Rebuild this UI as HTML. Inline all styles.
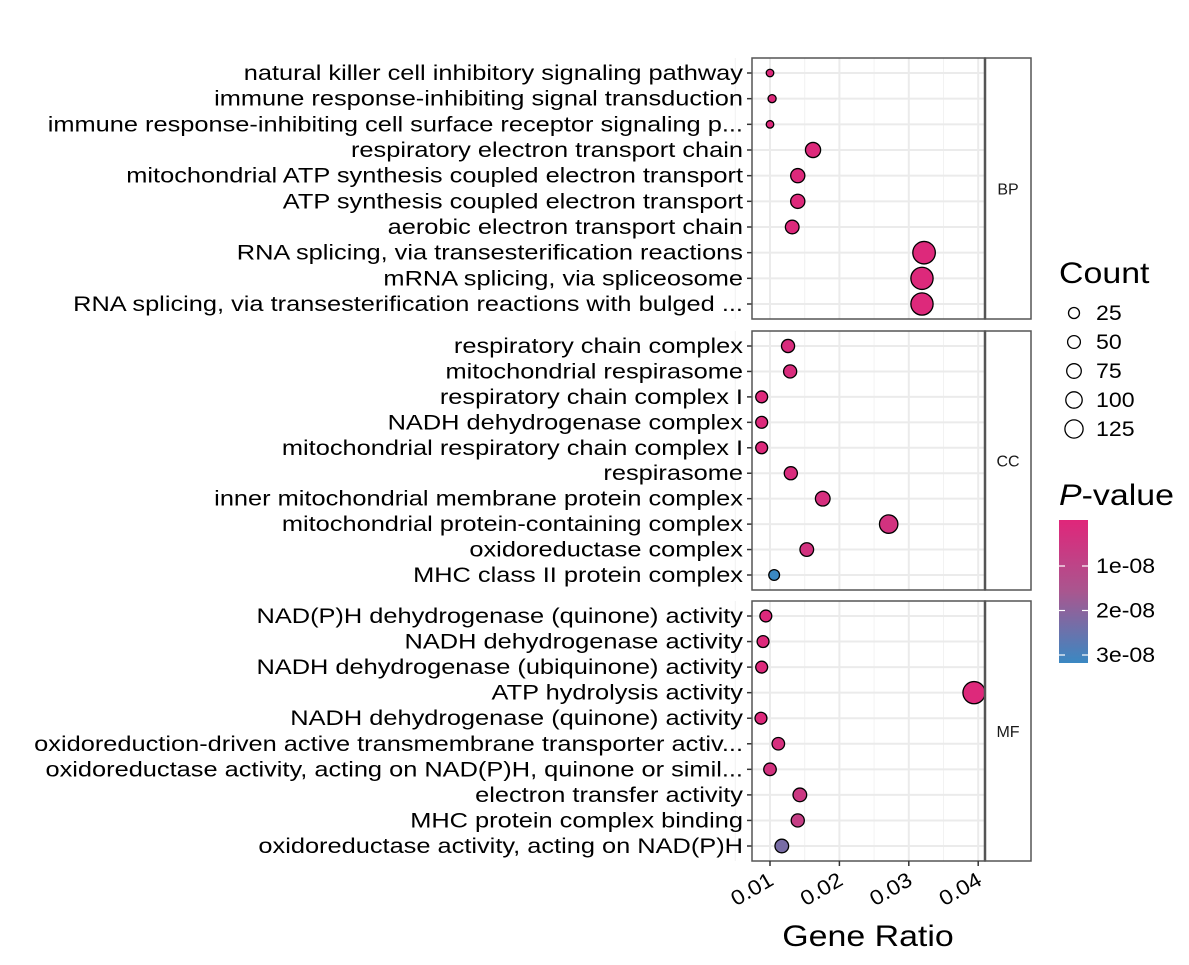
<!DOCTYPE html>
<html><head><meta charset="utf-8"><style>
body{margin:0;background:#fff;font-family:"Liberation Sans",Arial,sans-serif}
svg text{font-family:"Liberation Sans",Arial,sans-serif}
</style></head><body>
<svg id="c" width="1189" height="960" xmlns="http://www.w3.org/2000/svg">
<defs><linearGradient id="pg" x1="0" y1="0" x2="0" y2="1">
<stop offset="0" stop-color="#e0267a"/><stop offset="0.5" stop-color="#a9568f"/><stop offset="1" stop-color="#3a88c2"/></linearGradient></defs>
</svg>
<script>
const bpTerms=["natural killer cell inhibitory signaling pathway","immune response-inhibiting signal transduction","immune response-inhibiting cell surface receptor signaling p...","respiratory electron transport chain","mitochondrial ATP synthesis coupled electron transport","ATP synthesis coupled electron transport","aerobic electron transport chain","RNA splicing, via transesterification reactions","mRNA splicing, via spliceosome","RNA splicing, via transesterification reactions with bulged ..."];
const bpRatio=[0.0100,0.0103,0.0100,0.0162,0.0140,0.0140,0.0132,0.0322,0.0319,0.0319];
const bpCount=[6,8,6,60,50,50,45,165,160,160];
const bpP=[0.1e-8,0.1e-8,0.1e-8,0.1e-8,0.1e-8,0.1e-8,0.1e-8,0.1e-8,0.1e-8,0.1e-8];
const ccTerms=["respiratory chain complex","mitochondrial respirasome","respiratory chain complex I","NADH dehydrogenase complex","mitochondrial respiratory chain complex I","respirasome","inner mitochondrial membrane protein complex","mitochondrial protein-containing complex","oxidoreductase complex","MHC class II protein complex"];
const ccRatio=[0.0126,0.0129,0.0088,0.0088,0.0088,0.0130,0.0176,0.0271,0.0153,0.0106];
const ccCount=[40,40,30,30,30,40,55,100,45,22];
const ccP=[0.2e-8,0.2e-8,0.1e-8,0.1e-8,0.1e-8,0.2e-8,0.3e-8,0.4e-8,0.4e-8,3.2e-8];
const mfTerms=["NAD(P)H dehydrogenase (quinone) activity","NADH dehydrogenase activity","NADH dehydrogenase (ubiquinone) activity","ATP hydrolysis activity","NADH dehydrogenase (quinone) activity","oxidoreduction-driven active transmembrane transporter activ...","oxidoreductase activity, acting on NAD(P)H, quinone or simil...","electron transfer activity","MHC protein complex binding","oxidoreductase activity, acting on NAD(P)H"];
const mfRatio=[0.0094,0.0090,0.0088,0.0394,0.0087,0.0112,0.0100,0.0143,0.0140,0.0117];
const mfCount=[30,30,30,160,30,35,35,45,40,45];
const mfP=[0.1e-8,0.1e-8,0.1e-8,0.1e-8,0.1e-8,0.3e-8,0.4e-8,0.6e-8,0.8e-8,2.3e-8];
const xTicks=[0.01,0.02,0.03,0.04];
const xTickLabels=["0.01","0.02","0.03","0.04"];
const sizeLegend=[25,50,75,100,125];
const pTicks=[1e-8,2e-8,3e-8];
const pTickLabels=["1e-08","2e-08","3e-08"];

const NS="http://www.w3.org/2000/svg",svg=document.getElementById('c');
function mk(t,a,p){const e=document.createElementNS(NS,t);for(const k in a)e.setAttribute(k,a[k]);(p||svg).appendChild(e);return e;}
function widen(e,f){const L=e.getComputedTextLength();e.setAttribute('textLength',L*f);e.setAttribute('lengthAdjust','spacingAndGlyphs');}
const PL=752,PR=985,SR=1031;
const x=v=>770+(v-0.01)*6940;
const r=c=>2+0.72*Math.sqrt(c);
const pMax=3.2e-8;
function col(p){const t=Math.min(1,Math.max(0,p/pMax));
 const a=[224,38,122],m=[169,86,143],b=[58,136,194];let c;
 if(t<0.5){const u=t/0.5;c=a.map((v,i)=>v+(m[i]-v)*u);}else{const u=(t-0.5)/0.5;c=m.map((v,i)=>v+(b[i]-v)*u);}
 return `rgb(${c.map(Math.round).join(',')})`;}
const panels=[["BP",58,319,bpTerms,bpRatio,bpCount,bpP],["CC",331,590,ccTerms,ccRatio,ccCount,ccP],["MF",601,861,mfTerms,mfRatio,mfCount,mfP]];
panels.forEach(([name,top,bot,terms,ratio,count,pv])=>{
 const g=mk('g',{});
 
 
 mk('rect',{x:PL,y:top,width:PR-PL,height:bot-top,fill:'#fff'},g);
 const n=terms.length,y0=top+15,step=(bot-top-30)/(n-1);
 xTicks.forEach(t=>{mk('line',{x1:x(t+0.005),x2:x(t+0.005),y1:top,y2:bot,stroke:'#f2f2f2','stroke-width':1},g);});
 mk('line',{x1:x(0.005),x2:x(0.005),y1:top,y2:bot,stroke:'#f2f2f2','stroke-width':1},g);
 xTicks.forEach(t=>{mk('line',{x1:x(t),x2:x(t),y1:top,y2:bot,stroke:'#ebebeb','stroke-width':2},g);});
 terms.forEach((tm,i)=>{const y=y0+i*step;
  mk('line',{x1:PL,x2:PR,y1:y,y2:y,stroke:'#ebebeb','stroke-width':2},g);
  mk('line',{x1:PL-5,x2:PL,y1:y,y2:y,stroke:'#333','stroke-width':1.5},g);
  const tx=mk('text',{x:PL-9,y:y+7,'text-anchor':'end','font-size':21.5,fill:'#000'},g);tx.textContent=tm;
  
  
  widen(tx,1.18);});
 terms.forEach((tm,i)=>{const y=y0+i*step;
  const c=mk('circle',{cx:x(ratio[i]),cy:y,r:r(count[i]),fill:col(pv[i]),stroke:'#000','stroke-width':1.3},g);
  
  });
 mk('rect',{x:PL,y:top,width:PR-PL,height:bot-top,fill:'none',stroke:'#555','stroke-width':1.5},g);
 const s=mk('rect',{x:PR,y:top,width:SR-PR,height:bot-top,fill:'#fff',stroke:'#555','stroke-width':1.5},g);
 
 
 mk('line',{x1:PR,x2:PR,y1:top,y2:bot,stroke:'#555','stroke-width':2.5},g);
 const st=mk('text',{x:(PR+SR)/2,y:(top+bot)/2+6,'text-anchor':'middle','font-size':16,fill:'#1a1a1a'},g);st.textContent=name;
 
 
});
xTicks.forEach((t,i)=>{mk('line',{x1:x(t),x2:x(t),y1:861,y2:866,stroke:'#333','stroke-width':1.5});
 const tx=mk('text',{x:x(t)+5,y:884,'text-anchor':'end','font-size':21,fill:'#000',transform:`rotate(-30 ${x(t)+5} 884)`});tx.textContent=xTickLabels[i];
 
 
 widen(tx,1.1);});
const xt=mk('text',{x:868,y:946,'text-anchor':'middle','font-size':30,fill:'#000'});xt.textContent="Gene Ratio";


widen(xt,1.13);
const ct=mk('text',{x:1059,y:283,'font-size':30,fill:'#000'});ct.textContent="Count";


widen(ct,1.13);
sizeLegend.forEach((c,i)=>{const y=313+i*29;
 const e=mk('circle',{cx:1074,cy:y,r:5.5+i*0.9,fill:'none',stroke:'#000','stroke-width':1.3});
 
 
 const t=mk('text',{x:1096,y:y+7,'font-size':21,fill:'#000'});t.textContent=c;
 
 
 widen(t,1.1);});
const pt=mk('text',{x:1059,y:505,'font-size':30,fill:'#000'});
pt.innerHTML='<tspan font-style="italic">P</tspan>-value';


widen(pt,1.13);
const cb=mk('rect',{x:1059,y:520,width:29,height:143,fill:'url(#pg)'});


const py=p=>521.5+p/1e-8*44.5;
pTicks.forEach((p,i)=>{const y=py(p);
 mk('line',{x1:1059,x2:1065,y1:y,y2:y,stroke:'#fff','stroke-width':1.2});
 mk('line',{x1:1082,x2:1088,y1:y,y2:y,stroke:'#fff','stroke-width':1.2});
 const t=mk('text',{x:1096,y:y+7,'font-size':21,fill:'#000'});t.textContent=pTickLabels[i];
 
 
 widen(t,1.1);});
</script>
</body></html>
